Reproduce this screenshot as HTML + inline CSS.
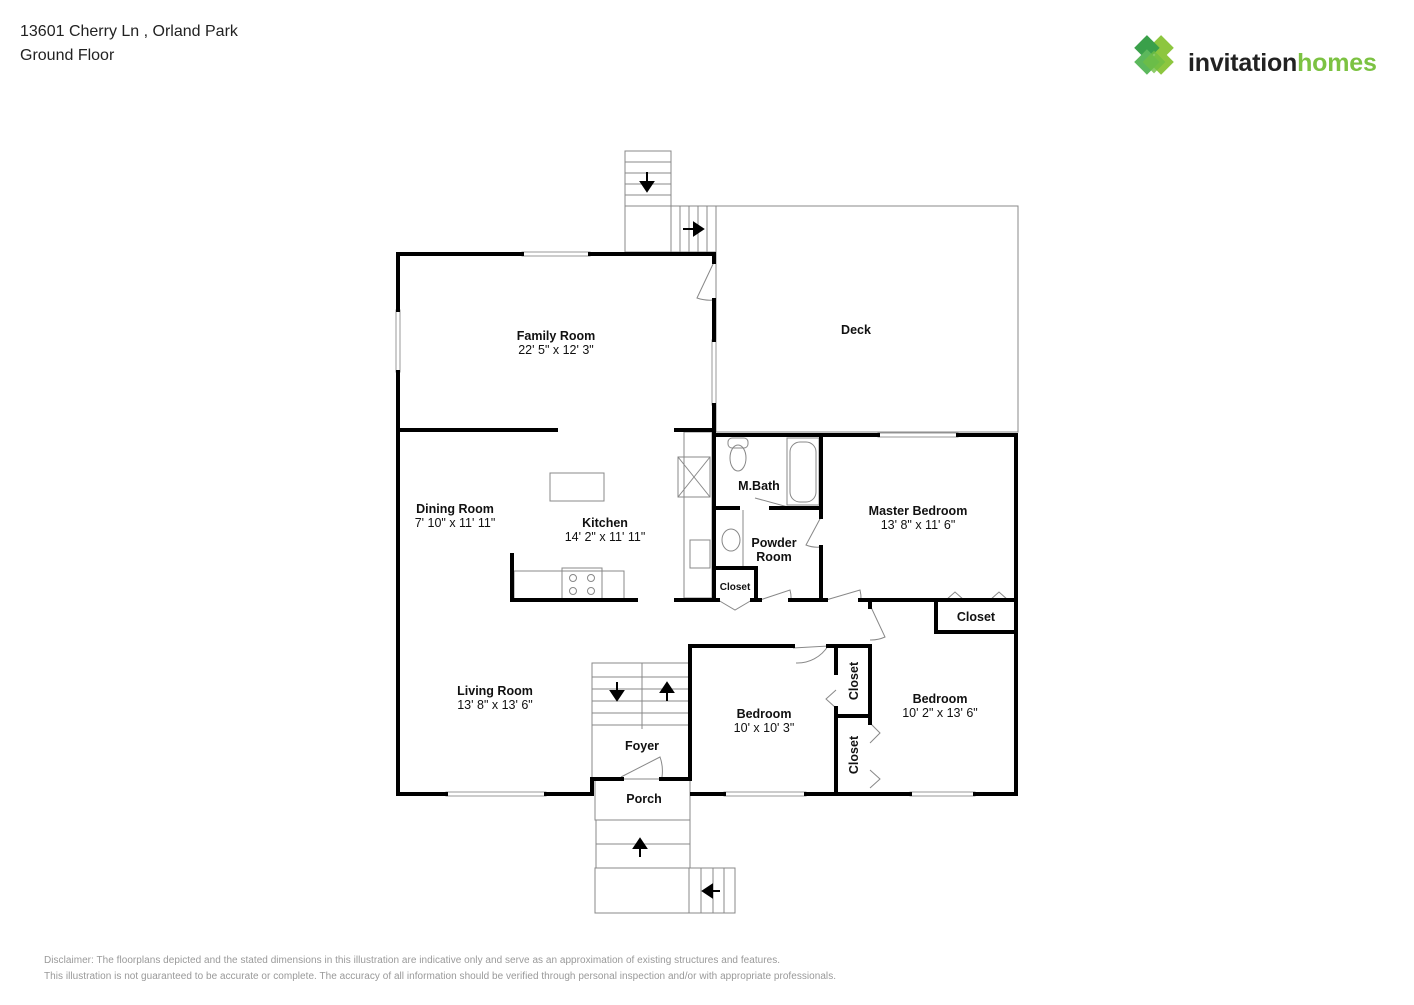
<!DOCTYPE html>
<html><head><meta charset="utf-8"><style>
body{margin:0;background:#fff;width:1414px;height:1000px;overflow:hidden;font-family:"Liberation Sans",sans-serif}
</style></head><body>
<svg width="1414" height="1000" viewBox="0 0 1414 1000" xmlns="http://www.w3.org/2000/svg" font-family="Liberation Sans, sans-serif">
<text x="20" y="36" font-size="16" fill="#222">13601 Cherry Ln , Orland Park</text>
<text x="20" y="60" font-size="16" fill="#222">Ground Floor</text>
<!-- logo -->
<g transform="translate(1154,62) rotate(45)">
<rect x="-14" y="-24" width="18" height="18" fill="#8dc63f"/>
<rect x="-4" y="-14" width="18" height="18" fill="#8dc63f"/>
<rect x="-24" y="-14" width="18" height="18" fill="#3aa04a"/>
<rect x="-14" y="-4" width="18" height="18" fill="#5cb85c"/>
<rect x="-8" y="-8" width="16" height="16" fill="#6fbe44" opacity=".8"/>
</g>
<text x="1188" y="71" font-size="25" fill="#222" font-weight="bold" letter-spacing="-0.2">invitation<tspan fill="#7cc242">homes</tspan></text>
<g fill="none" stroke="#888" stroke-width="1">
<rect x="716" y="206" width="302" height="226"/>
<rect x="625" y="151" width="46" height="101"/>
<line x1="625" y1="162" x2="671" y2="162"/><line x1="625" y1="173" x2="671" y2="173"/><line x1="625" y1="184" x2="671" y2="184"/><line x1="625" y1="195" x2="671" y2="195"/><line x1="625" y1="206" x2="671" y2="206"/>
<rect x="671" y="206" width="45" height="46"/>
<line x1="680" y1="206" x2="680" y2="252"/><line x1="689" y1="206" x2="689" y2="252"/><line x1="698" y1="206" x2="698" y2="252"/><line x1="707" y1="206" x2="707" y2="252"/>
<rect x="550" y="473" width="54" height="28"/>
<rect x="514" y="571" width="110" height="28"/>
<rect x="562" y="568" width="40" height="31"/>
<circle cx="573" cy="578" r="3.5"/><circle cx="591" cy="578" r="3.5"/><circle cx="573" cy="591" r="3.5"/><circle cx="591" cy="591" r="3.5"/>
<rect x="684" y="432" width="28" height="166"/>
<rect x="678" y="457" width="32" height="40"/><line x1="678" y1="457" x2="710" y2="497"/><line x1="710" y1="457" x2="678" y2="497"/>
<rect x="690" y="540" width="20" height="28"/>
<ellipse cx="738" cy="458" rx="8" ry="13"/><rect x="728" y="438" width="20" height="10" rx="4"/>
<rect x="787" y="438" width="32" height="67"/><rect x="790" y="442" width="26" height="60" rx="10"/>
<line x1="743" y1="510" x2="743" y2="566"/>
<ellipse cx="731" cy="540" rx="9" ry="11"/>
<rect x="592" y="663" width="98" height="62"/>
<line x1="592" y1="677" x2="690" y2="677"/><line x1="592" y1="689" x2="690" y2="689"/><line x1="592" y1="701" x2="690" y2="701"/><line x1="592" y1="713" x2="690" y2="713"/>
<line x1="642" y1="663" x2="642" y2="729"/>
<line x1="592" y1="663" x2="592" y2="778"/>
<rect x="595" y="779" width="95" height="41"/>
<rect x="596" y="820" width="94" height="48"/><line x1="596" y1="844" x2="690" y2="844"/>
<rect x="595" y="868" width="140" height="45"/>
<line x1="689" y1="868" x2="689" y2="913"/><line x1="701" y1="868" x2="701" y2="913"/><line x1="713" y1="868" x2="713" y2="913"/><line x1="724" y1="868" x2="724" y2="913"/>
<path d="M714 262 L697 298 A40 40 0 0 0 714 300"/>
<path d="M621 777 L660 757 A42 42 0 0 1 662 777"/>
<path d="M793 648 L828 646 A36 36 0 0 1 796 663"/>
<path d="M821 517 L806 545 A30 30 0 0 0 821 547"/>
<path d="M760 600 L790 590 A30 30 0 0 1 791 600"/>
<path d="M826 600 L860 590 A34 34 0 0 1 861 600"/>
<path d="M870 605 L885 637 A34 34 0 0 1 870 640"/>
<path d="M755 498 L788 507"/>
<path d="M718 600 L735 610 L752 600"/>
<path d="M946 600 L955 592 L964 600 M990 600 L999 592 L1008 600"/>
<path d="M836 690 L826 699 L836 708"/>
<path d="M870 723 L880 733 L870 743 M870 770 L880 779 L870 788"/>
</g>
<g stroke="#999" stroke-width="1" fill="#fff">
<rect x="522" y="252" width="68" height="4"/>
<rect x="396" y="310" width="4" height="62"/>
<rect x="712" y="340" width="4" height="65"/>
<rect x="446" y="792" width="100" height="4"/>
<rect x="878" y="433" width="80" height="4"/>
<rect x="724" y="792" width="82" height="4"/>
<rect x="910" y="792" width="65" height="4"/>
</g>
<g stroke="#000" stroke-width="4" fill="none" stroke-linecap="square">
<path d="M398 254 H522 M590 254 H714 V262 M714 300 V340 M714 405 V600"/>
<path d="M398 254 V310 M398 372 V794 H446 M546 794 H592 V779 H622 M661 779 H690 V646 H793 M828 646 H870 V723 M870 602 V607"/>
<path d="M398 430 H556 M676 430 H714"/>
<path d="M512 555 V600 H636"/>
<path d="M676 600 H718 M752 600 H760 M790 600 H826 M860 600 H1016"/>
<path d="M714 435 H878 M958 435 H1016 V794 H975 M910 794 H806 M724 794 H692"/>
<path d="M821 435 V517 M821 547 V600"/>
<path d="M714 508 H738 M771 508 H821"/>
<path d="M714 568 H756 V600"/>
<path d="M936 600 V632 H1016"/>
<path d="M836 646 V673 M836 708 V794 M836 716 H870"/>
</g>
<g fill="#000" stroke="#000" stroke-width="2">
<line x1="647" y1="172" x2="647" y2="186"/><path d="M641 182 L653 182 L647 191Z"/>
<line x1="683" y1="229" x2="697" y2="229"/><path d="M694 223 L694 235 L703 229Z"/>
<line x1="617" y1="682" x2="617" y2="695"/><path d="M611 691 L623 691 L617 700Z"/>
<line x1="667" y1="701" x2="667" y2="688"/><path d="M661 692 L673 692 L667 683Z"/>
<line x1="640" y1="857" x2="640" y2="844"/><path d="M634 848 L646 848 L640 839Z"/>
<line x1="720" y1="891" x2="708" y2="891"/><path d="M712 885 L712 897 L703 891Z"/>
</g>
<g font-size="12.5" text-anchor="middle" fill="#111">
<text x="556" y="340" font-weight="bold">Family Room</text><text x="556" y="354">22' 5" x 12' 3"</text>
<text x="856" y="334" font-weight="bold">Deck</text>
<text x="455" y="513" font-weight="bold">Dining Room</text><text x="455" y="527">7' 10" x 11' 11"</text>
<text x="605" y="527" font-weight="bold">Kitchen</text><text x="605" y="541">14' 2" x 11' 11"</text>
<text x="759" y="490" font-weight="bold">M.Bath</text>
<text x="774" y="547" font-weight="bold">Powder</text><text x="774" y="561" font-weight="bold">Room</text>
<text x="735" y="590" font-weight="bold" font-size="10">Closet</text>
<text x="918" y="515" font-weight="bold">Master Bedroom</text><text x="918" y="529">13' 8" x 11' 6"</text>
<text x="976" y="621" font-weight="bold">Closet</text>
<text x="495" y="695" font-weight="bold">Living Room</text><text x="495" y="709">13' 8" x 13' 6"</text>
<text x="642" y="750" font-weight="bold">Foyer</text>
<text x="644" y="803" font-weight="bold">Porch</text>
<text x="764" y="718" font-weight="bold">Bedroom</text><text x="764" y="732">10' x 10' 3"</text>
<text x="940" y="703" font-weight="bold">Bedroom</text><text x="940" y="717">10' 2" x 13' 6"</text>
<text transform="translate(858,681) rotate(-90)" font-weight="bold">Closet</text>
<text transform="translate(858,755) rotate(-90)" font-weight="bold">Closet</text>
</g>
<text x="44" y="963" font-size="10" fill="#999" textLength="736">Disclaimer: The floorplans depicted and the stated dimensions in this illustration are indicative only and serve as an approximation of existing structures and features.</text>
<text x="44" y="979" font-size="10" fill="#999" textLength="792">This illustration is not guaranteed to be accurate or complete. The accuracy of all information should be verified through personal inspection and/or with appropriate professionals.</text>
</svg>
</body></html>
